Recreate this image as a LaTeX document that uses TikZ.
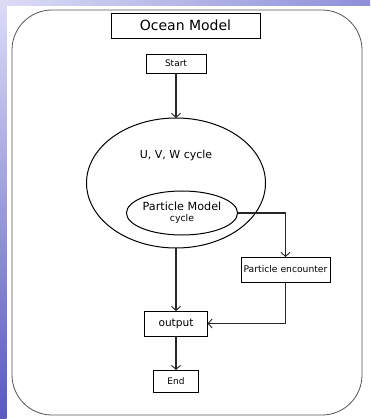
\documentclass[tikz,border=0pt]{standalone}
\usepackage{fontspec}
\setmainfont{DejaVu Sans}
\usetikzlibrary{shapes.geometric,arrows.meta}
\definecolor{bgLight}{HTML}{DCDCF6}
\definecolor{bgMid}{HTML}{9C9CE0}
\definecolor{bgDark}{HTML}{5858C0}
\definecolor{frameGray}{HTML}{555555}
\tikzset{
  every node/.style={inner sep=0pt, outer sep=0pt},
  boxnode/.style={draw=black, line width=0.9pt, rectangle, align=center},
  ellnode/.style={draw=black, line width=1pt, ellipse},
  flow/.style={draw=black!85, line width=1.1pt, -{Straight Barb[length=4pt,width=9pt,line width=0.9pt]}},
}
\begin{document}
\begin{tikzpicture}[x=1pt,y=-1pt]
\useasboundingbox (0,0) rectangle (370,419);
% background strips
\fill[white] (0,0) rectangle (370,419);
\shade[top color=bgLight, bottom color=bgDark] (0,0) rectangle (6.5,419);
\shade[left color=bgLight, right color=bgMid!80!bgDark] (0,0) rectangle (370,5.5);
\shade[top color=bgLight, bottom color=bgLight!70!bgMid] (0,0) rectangle (6.5,60);
% frame
\draw[frameGray, line width=0.8pt, rounded corners=40pt] (12,10) rectangle (362,415);
% title
\node[boxnode, line width=0.8pt, minimum width=149pt, minimum height=25pt, font=\fontsize{14}{16}\selectfont] (title) at (185.5,25.5) {Ocean Model};
% nodes
\node[boxnode, minimum width=60pt, minimum height=19pt, font=\fontsize{9}{11}\selectfont] (start) at (176,63.5) {Start};
\node[ellnode, minimum width=179pt, minimum height=130pt] (cyc) at (176,183) {};
\node[font=\fontsize{11}{13}\selectfont] (cyct) at (176,155) {U, V, W cycle};
\node[ellnode, minimum width=106pt, minimum height=44pt, align=center] (pm) at (182,213)
  {{\fontsize{11.2}{13}\selectfont Particle Model}\\[-1pt]{\fontsize{9.3}{11}\selectfont cycle}};
\node[boxnode, minimum width=89pt, minimum height=25pt, font=\fontsize{9.2}{11}\selectfont] (pe) at (285.5,269.5) {Particle encounter};
\node[boxnode, minimum width=63pt, minimum height=25pt, font=\fontsize{10.6}{12}\selectfont] (out) at (176,323.5) {output};
\node[boxnode, minimum width=45pt, minimum height=22pt, font=\fontsize{9}{11}\selectfont] (end) at (176,381) {End};
% connectors
\draw[flow] (start.south) -- (cyc.north);
\draw[flow] (pm.east) -| (pe.north);
\draw[flow] (cyc.south) -- (out.north);
\draw[flow] (pe.south) |- (out.east);
\draw[flow] (out.south) -- (end.north);
\end{tikzpicture}
\end{document}
